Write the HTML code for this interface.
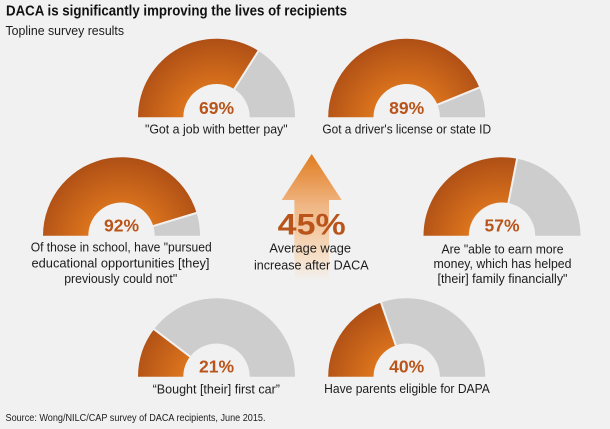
<!DOCTYPE html>
<html lang="en">
<head>
<meta charset="utf-8">
<title>DACA survey results</title>
<style>
html,body{margin:0;padding:0;background:#f1f1f1;}
svg{display:block;font-family:"Liberation Sans",sans-serif;}
.lbl{font-size:13px;fill:#1c1c1c;text-anchor:middle;}
.pct{font-size:17.5px;font-weight:bold;fill:#b9551a;text-anchor:middle;}
</style>
</head>
<body>
<svg id="chart" width="610" height="429" viewBox="0 0 610 429" xmlns="http://www.w3.org/2000/svg">
  <defs>
    <radialGradient id="orangeFill" gradientUnits="userSpaceOnUse" cx="0" cy="8" r="88">
      <stop offset="0.38" stop-color="#de761e"/>
      <stop offset="1" stop-color="#ad4e15"/>
    </radialGradient>
    <linearGradient id="arrowFill" x1="0" y1="0" x2="0" y2="1">
      <stop offset="0" stop-color="#e07c20"/>
      <stop offset="0.4" stop-color="#f0b582"/>
      <stop offset="0.82" stop-color="#f6e0c9"/>
      <stop offset="1" stop-color="#f1f1f1"/>
    </linearGradient>
  </defs>
  <rect width="610" height="429" fill="#f1f1f1"/>
  <text x="6" y="15.5" font-size="14.5" font-weight="bold" fill="#111" textLength="341" lengthAdjust="spacingAndGlyphs">DACA is significantly improving the lives of recipients</text>
  <text x="5.5" y="35" font-size="13" fill="#1c1c1c" textLength="118.5" lengthAdjust="spacingAndGlyphs">Topline survey results</text>

  <g id="gauges"></g>

  <path d="M311.7 154 L341.7 200 L329 200 L329 281 L294.4 281 L294.4 200 L281.7 200 Z" fill="url(#arrowFill)"/>
  <text id="wagePct" x="311.7" y="234.5" font-size="30" font-weight="bold" fill="#b9551a" text-anchor="middle" textLength="68" lengthAdjust="spacingAndGlyphs"></text>
  <text class="lbl" x="310.2" y="252.7" textLength="81.7" lengthAdjust="spacingAndGlyphs">Average wage</text>
  <text class="lbl" x="311.3" y="269.3" textLength="114.7" lengthAdjust="spacingAndGlyphs">increase after DACA</text>

  <text class="lbl" x="216.3" y="133.5" textLength="142.7" lengthAdjust="spacingAndGlyphs">"Got a job with better pay"</text>
  <text class="lbl" x="406.7" y="133.5" textLength="168.7" lengthAdjust="spacingAndGlyphs">Got a driver's license or state ID</text>

  <text class="lbl" x="121.2" y="251.7" textLength="181" lengthAdjust="spacingAndGlyphs">Of those in school, have "pursued</text>
  <text class="lbl" x="120.5" y="267.3" textLength="178" lengthAdjust="spacingAndGlyphs">educational opportunities [they]</text>
  <text class="lbl" x="120.7" y="283" textLength="113" lengthAdjust="spacingAndGlyphs">previously could not"</text>

  <text class="lbl" x="502.5" y="253.3" textLength="122" lengthAdjust="spacingAndGlyphs">Are "able to earn more</text>
  <text class="lbl" x="502.5" y="268" textLength="138" lengthAdjust="spacingAndGlyphs">money, which has helped</text>
  <text class="lbl" x="502.5" y="283" textLength="130" lengthAdjust="spacingAndGlyphs">[their] family financially"</text>

  <text class="lbl" x="216.3" y="393.3" textLength="127.3" lengthAdjust="spacingAndGlyphs">“Bought [their] first car”</text>
  <text class="lbl" x="407" y="392.8" textLength="165.7" lengthAdjust="spacingAndGlyphs">Have parents eligible for DAPA</text>

  <text x="5.5" y="421" font-size="10.5" fill="#1c1c1c" textLength="260" lengthAdjust="spacingAndGlyphs">Source: Wong/NILC/CAP survey of DACA recipients, June 2015.</text>
</svg>
<script>
const gaugeNames = ['job', 'license', 'education', 'earnings', 'first-car', 'dapa'];
const gaugeValues = [69, 89, 92, 57, 21, 40];
const wageIncrease = [45];

const gaugeAnchorX = [216.5, 406.7, 121.5, 502, 216.5, 406.7];
const gaugeAnchorY = [117.2, 117.2, 235.7, 235.7, 376.7, 376.7];
const percentLift = [3.3, 3.3, 4.2, 4.2, 4.2, 4.2];
const outerRadius = 78.5;
const innerRadius = 33.2;
const NS = 'http://www.w3.org/2000/svg';

function valueToAngle(v) { return Math.PI * 0.985 * v / 100; }
function polar(r, a) { return [-r * Math.cos(a), -r * Math.sin(a)]; }
function sector(a0, a1) {
  const p0 = polar(outerRadius, a0), p1 = polar(outerRadius, a1);
  const p2 = polar(innerRadius, a1), p3 = polar(innerRadius, a0);
  return 'M' + p0.join(' ') + ' A' + outerRadius + ' ' + outerRadius + ' 0 0 1 ' + p1.join(' ') +
         ' L' + p2.join(' ') + ' A' + innerRadius + ' ' + innerRadius + ' 0 0 0 ' + p3.join(' ') + ' Z';
}

const root = document.getElementById('gauges');
gaugeValues.forEach(function (v, i) {
  const g = document.createElementNS(NS, 'g');
  g.setAttribute('transform', 'translate(' + gaugeAnchorX[i] + ' ' + gaugeAnchorY[i] + ')');
  
  

  const rest = document.createElementNS(NS, 'path');
  rest.setAttribute('d', sector(valueToAngle(v), Math.PI));
  rest.setAttribute('fill', '#cdcdcd');
  
  
  g.appendChild(rest);

  const fill = document.createElementNS(NS, 'path');
  fill.setAttribute('d', sector(0, valueToAngle(v)));
  fill.setAttribute('fill', 'url(#orangeFill)');
  
  
  g.appendChild(fill);

  const a = valueToAngle(v);
  const s0 = polar(innerRadius - 1, a), s1 = polar(outerRadius + 1, a);
  const sep = document.createElementNS(NS, 'line');
  sep.setAttribute('x1', s0[0]);
  sep.setAttribute('y1', s0[1]);
  sep.setAttribute('x2', s1[0]);
  sep.setAttribute('y2', s1[1]);
  sep.setAttribute('stroke', '#f1f1f1');
  sep.setAttribute('stroke-width', '2');
  
  
  g.appendChild(sep);

  const t = document.createElementNS(NS, 'text');
  t.setAttribute('class', 'pct');
  t.setAttribute('x', '0');
  t.setAttribute('y', -percentLift[i]);
  t.textContent = v + '%';
  
  
  g.appendChild(t);

  root.appendChild(g);
});
document.getElementById('wagePct').textContent = wageIncrease[0] + '%';
</script>
</body>
</html>
